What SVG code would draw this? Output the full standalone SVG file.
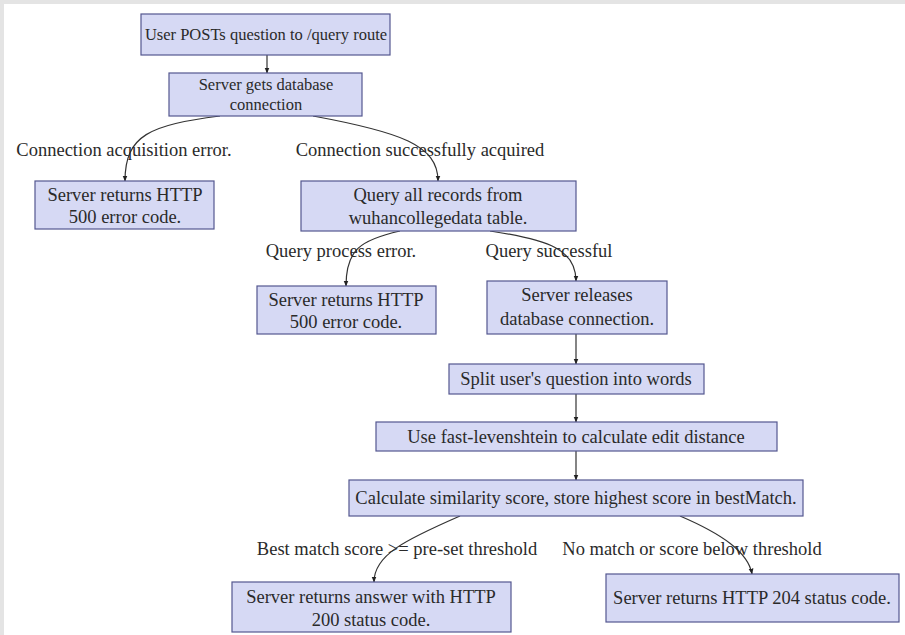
<svg xmlns="http://www.w3.org/2000/svg" width="905" height="635" viewBox="0 0 905 635" font-family="'Liberation Serif', 'Times New Roman', Times, serif">
<style>
.n rect{fill:#d6d9f4;stroke:#54578f;stroke-width:1.2}
.t{font-size:18.5px;fill:#2a2a2a;text-anchor:middle}
.s{font-size:16.5px}
.l{font-size:18.5px;fill:#2a2a2a;text-anchor:middle}
.e{fill:none;stroke:#333;stroke-width:1.2;marker-end:url(#a)}
</style>
<defs>
<marker id="a" viewBox="0 0 10 10" refX="9" refY="5" markerWidth="6" markerHeight="6" orient="auto" markerUnits="userSpaceOnUse">
<path d="M0,1 L10,5 L0,9 z" fill="#222"/>
</marker>
</defs>
<rect x="0" y="0" width="905" height="635" fill="#fff"/>
<rect x="0" y="0" width="905" height="4" fill="#e4e4e4"/>
<rect x="0" y="0" width="4" height="635" fill="#e4e4e4"/>

<g id="edges">
<path class="e" d="M267,55 L267,73"/>
<path class="e" d="M220,116 C150,125 125,135 125,181"/>
<path class="e" d="M313,116 C400,132 438,145 438,181"/>
<path class="e" d="M400,231 C360,240 346,250 346,286"/>
<path class="e" d="M490,231 C550,240 576,250 576,281"/>
<path class="e" d="M576,334 L576,364"/>
<path class="e" d="M576,394 L576,422"/>
<path class="e" d="M576,451 L576,480"/>
<path class="e" d="M460,516 C405,540 374,555 374,582"/>
<path class="e" d="M680,516 C722,534 748,552 752,574"/>
</g>

<g id="labels">
<text class="l" x="124" y="156">Connection acquisition error.</text>
<text class="l" x="420" y="156">Connection successfully acquired</text>
<text class="l" x="341" y="257">Query process error.</text>
<text class="l" x="549" y="257">Query successful</text>
<text class="l" x="397" y="555">Best match score &gt;= pre-set threshold</text>
<text class="l" x="692" y="555">No match or score below threshold</text>
</g>

<g id="n1" class="n"><rect x="141" y="14" width="249" height="41"/>
<text class="t s" x="266" y="40">User POSTs question to /query route</text></g>

<g id="n2" class="n"><rect x="169" y="73" width="193" height="43"/>
<text class="t s" x="266" y="90">Server gets database</text>
<text class="t s" x="266" y="110">connection</text></g>

<g id="n3" class="n"><rect x="35" y="181" width="179" height="48"/>
<text class="t" x="125" y="201">Server returns HTTP</text>
<text class="t" x="125" y="223">500 error code.</text></g>

<g id="n4" class="n"><rect x="301" y="181" width="275" height="50"/>
<text class="t" x="438" y="201">Query all records from</text>
<text class="t" x="438" y="224">wuhancollegedata table.</text></g>

<g id="n5" class="n"><rect x="257" y="286" width="179" height="48"/>
<text class="t" x="346" y="306">Server returns HTTP</text>
<text class="t" x="346" y="328">500 error code.</text></g>

<g id="n6" class="n"><rect x="487" y="281" width="180" height="53"/>
<text class="t" x="577" y="301">Server releases</text>
<text class="t" x="577" y="325">database connection.</text></g>

<g id="n7" class="n"><rect x="449" y="364" width="255" height="30"/>
<text class="t" x="576" y="385">Split user's question into words</text></g>

<g id="n8" class="n"><rect x="376" y="422" width="401" height="29"/>
<text class="t" x="576" y="443">Use fast-levenshtein to calculate edit distance</text></g>

<g id="n9" class="n"><rect x="349" y="480" width="454" height="36"/>
<text class="t" x="576" y="504">Calculate similarity score, store highest score in bestMatch.</text></g>

<g id="n10" class="n"><rect x="232" y="582" width="279" height="50"/>
<text class="t" x="371" y="603">Server returns answer with HTTP</text>
<text class="t" x="371" y="626">200 status code.</text></g>

<g id="n11" class="n"><rect x="606" y="574" width="293" height="48"/>
<text class="t" x="752" y="604">Server returns HTTP 204 status code.</text></g>
</svg>
